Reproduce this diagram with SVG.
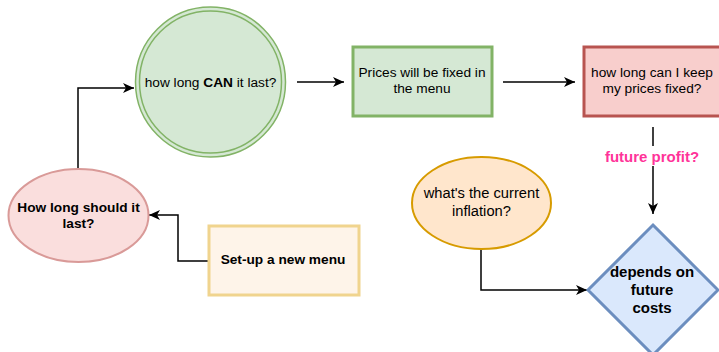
<svg xmlns="http://www.w3.org/2000/svg" width="719" height="352" viewBox="0 0 719 352">
  <style>
    text { font-family: "Liberation Sans", Arial, Helvetica, sans-serif; font-size: 13.7px; fill: #000; text-anchor: middle; }
    .b { font-weight: bold; }
    .big { font-size: 15px; }
    .mid { font-size: 14.7px; }
    .edge { fill: none; stroke: #000; stroke-width: 1.5; }
    .lbl { fill: #ff3399; font-weight: bold; font-size: 15px; }
  </style>
  <defs>
    <marker id="arrow" markerUnits="userSpaceOnUse" markerWidth="12" markerHeight="10" refX="11" refY="5" orient="auto">
      <path d="M0,0 L11,5 L0,10 L3,5 z" fill="#000"/>
    </marker>
  </defs>

  <rect width="719" height="352" fill="#fff"/>

  <!-- connectors -->
  <g id="connectors">
    <path class="edge" d="M78,169 V88 H134" marker-end="url(#arrow)"/>
    <path class="edge" d="M297,82 H344" marker-end="url(#arrow)"/>
    <path class="edge" d="M503,82 H575" marker-end="url(#arrow)"/>
    <path class="edge" d="M653,127 V214" marker-end="url(#arrow)"/>
    <rect x="601" y="146" width="104" height="20" fill="#fff"/>
    <text class="lbl" x="652" y="162">future profit?</text>
    <path class="edge" d="M208,261 H178 V215 H149" marker-end="url(#arrow)"/>
    <path class="edge" d="M481,249 V290 H587" marker-end="url(#arrow)"/>
  </g>

  <g id="can-last">
    <circle cx="210.5" cy="82" r="75" fill="#d5e8d4" stroke="#82b366" stroke-width="1.5"/>
    <circle cx="210.5" cy="82" r="71" fill="none" stroke="#82b366" stroke-width="1.5"/>
    <text x="210.5" y="87">how long <tspan class="b">CAN</tspan> it last?</text>
  </g>

  <g id="prices-fixed">
    <rect x="353" y="47" width="139" height="69" fill="#d5e8d4" stroke="#82b366" stroke-width="3"/>
    <text x="422" y="77">Prices will be fixed in</text>
    <text x="422" y="93">the menu</text>
  </g>

  <g id="keep-prices">
    <rect x="584" y="47" width="137" height="69" fill="#f8cecc" stroke="#b85450" stroke-width="3"/>
    <text x="652" y="77">how long can I keep</text>
    <text x="652" y="93">my prices fixed?</text>
  </g>

  <g id="should-last">
    <ellipse cx="78.5" cy="215.5" rx="70" ry="46.5" fill="#fadedd" stroke="#d99a98" stroke-width="2"/>
    <text class="b" x="78.5" y="212">How long should it</text>
    <text class="b" x="78.5" y="228">last?</text>
  </g>

  <g id="new-menu">
    <rect x="209" y="226" width="150" height="69" fill="#fef4e9" stroke="#f0d48e" stroke-width="3"/>
    <text class="b" x="283" y="264">Set-up a new menu</text>
  </g>

  <g id="inflation">
    <ellipse cx="481.5" cy="203" rx="69.5" ry="46" fill="#ffe6cc" stroke="#d79b00" stroke-width="2"/>
    <text class="mid" x="481.5" y="198">what's the current</text>
    <text class="mid" x="481.5" y="216">inflation?</text>
  </g>

  <g id="future-costs">
    <polygon points="653,225 718,290 653,355 588,290" fill="#dae8fc" stroke="#6c8ebf" stroke-width="3"/>
    <text class="b big" x="652" y="277">depends on</text>
    <text class="b big" x="652" y="295">future</text>
    <text class="b big" x="652" y="313">costs</text>
  </g>
</svg>
